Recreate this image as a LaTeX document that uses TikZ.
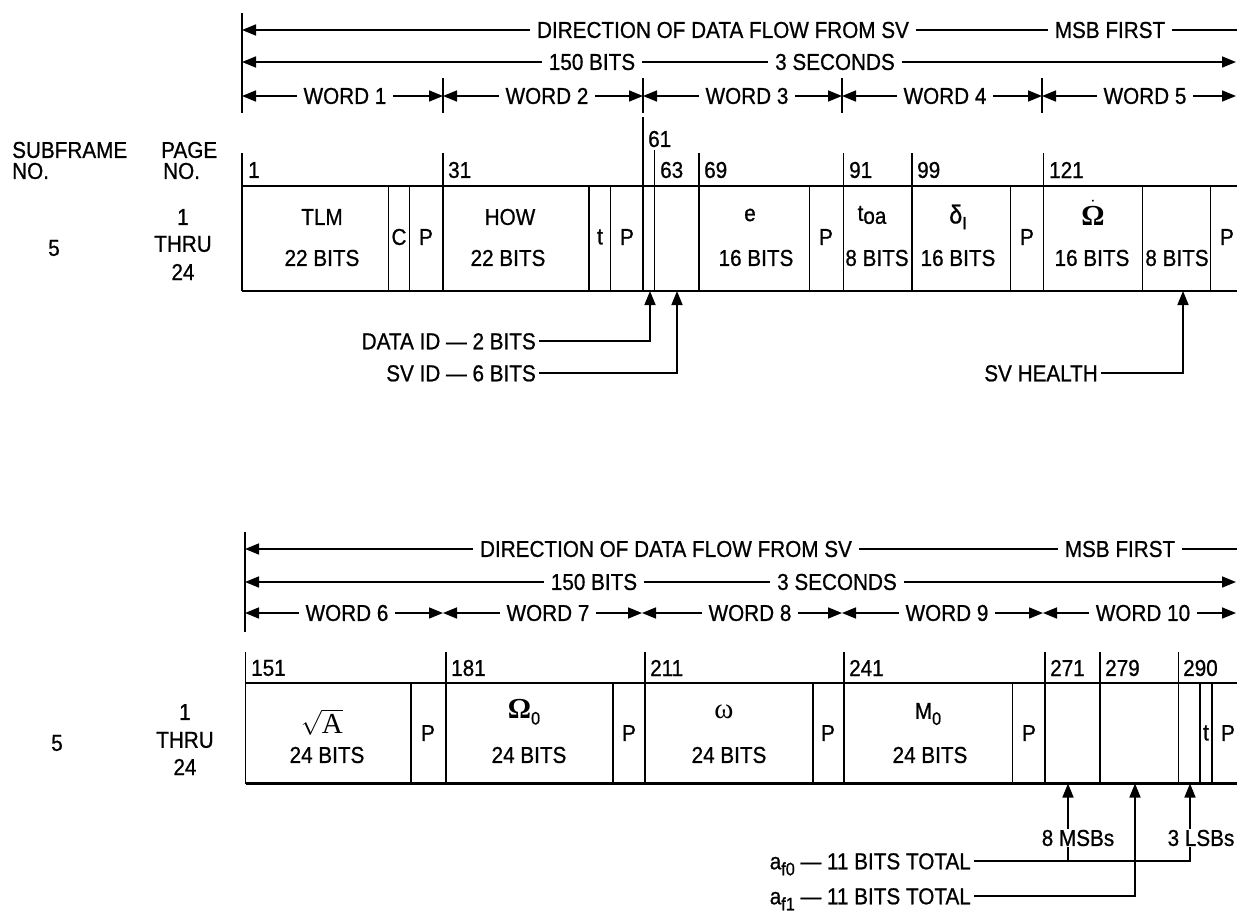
\documentclass[tikz,border=0pt]{standalone}
\usepackage{fontspec}
\setmainfont{Liberation Sans}[FakeStretch=0.9, FakeBold=0.8]
\newfontfamily\serifgr{Liberation Serif}
\usepackage{amsmath}
\usetikzlibrary{arrows.meta, positioning}

\newcommand\bitfont{\fontsize{23}{26}\selectfont}
\newcommand\bigsym{\fontsize{29}{30}\selectfont}
\newcommand\dropsub[1]{\raisebox{-6pt}{\fontsize{18}{20}\selectfont #1}}

\begin{document}
\begin{tikzpicture}[x=1pt, y=-1pt, font=\bitfont, >={Triangle[length=14pt,width=11pt]},
    frame/.style={line width=2.2pt},
    flow/.style={line width=1.6pt},
    tick/.style={line width=1.6pt},
    gaplbl/.style={fill=white, inner xsep=7pt, inner ysep=1pt},
    bitno/.style={anchor=west, inner sep=0pt},
    cell/.style={inner sep=0pt},
    callout/.style={anchor=east, inner xsep=3pt, inner ysep=0pt, text height=16.5pt, text depth=0pt}]
    \useasboundingbox (0,0) rectangle (1237,913);

    % ---------------- Upper frame (words 1 to 5) ----------------
    % Direction arrows
    \draw[tick] (242,13) -- (242,113);
    \draw[flow,->] (1237,30) -- (242,30);
    \node[gaplbl] (dir) at (723,30) {DIRECTION OF DATA FLOW FROM SV};
    \node[gaplbl] (msb) at (1110,30) {MSB FIRST};
    \draw[flow,<->] (242,62) -- (1236,62);
    \node[gaplbl] (bits) at (592,62) {150 BITS};
    \node[gaplbl] (secs) at (835,62) {3 SECONDS};

    % Word arrows
    \draw[tick] (443,78) -- (443,113);
    \draw[tick] (643,78) -- (643,113);
    \draw[tick] (842,78) -- (842,113);
    \draw[tick] (1042,78) -- (1042,113);
    \draw[flow,<->] (242,96) -- (443,96);
    \draw[flow,<->] (443,96) -- (643,96);
    \draw[flow,<->] (643,96) -- (842,96);
    \draw[flow,<->] (842,96) -- (1042,96);
    \draw[flow,<->] (1042,96) -- (1236,96);
    \node[gaplbl] (w1) at (345,96) {WORD 1};
    \node[gaplbl] (w2) at (547,96) {WORD 2};
    \node[gaplbl] (w3) at (747,96) {WORD 3};
    \node[gaplbl] (w4) at (945,96) {WORD 4};
    \node[gaplbl] (w5) at (1145,96) {WORD 5};

    % Row headings
    \node[bitno] (subfr) at (12,150) {SUBFRAME};
    \node[bitno] (subfrno) at (12,171) {NO.};
    \node[bitno] (page) at (161,150) {PAGE};
    \node[bitno] (pageno) at (163,171) {NO.};
    \node[cell] (sub5) at (54,248) {5};
    \node[cell] (pg1) at (183,217) {1};
    \node[cell] (pgthru) at (183,244) {THRU};
    \node[cell] (pg24) at (183,272) {24};

    % Frame outline and fields
    \draw[frame] (242,186) -- (1237,186);
    \draw[frame] (242,291) -- (1237,291);
    \draw[tick] (242,153) -- (242,291);
    \draw[tick] (443,153) -- (443,291);
    \draw[tick] (643,117) -- (643,291);
    \draw[tick] (654.5,150) -- (654.5,291);
    \draw[tick] (699,153) -- (699,291);
    \draw[tick] (843.5,153) -- (843.5,291);
    \draw[tick] (912,153) -- (912,291);
    \draw[tick] (1043.5,153) -- (1043.5,291);
    \draw[tick] (388.5,186) -- (388.5,291);
    \draw[tick] (409.5,186) -- (409.5,291);
    \draw[tick] (589,186) -- (589,291);
    \draw[tick] (610.5,186) -- (610.5,291);
    \draw[tick] (809.5,186) -- (809.5,291);
    \draw[tick] (1010.5,186) -- (1010.5,291);
    \draw[tick] (1142.5,186) -- (1142.5,291);
    \draw[tick] (1210.5,186) -- (1210.5,291);

    % Bit numbers
    \node[bitno] (n1) at (248,170) {1};
    \node[bitno] (n31) at (448,170) {31};
    \node[bitno] (n61) at (648,139) {61};
    \node[bitno] (n63) at (660,170) {63};
    \node[bitno] (n69) at (704,170) {69};
    \node[bitno] (n91) at (849,170) {91};
    \node[bitno] (n99) at (917,170) {99};
    \node[bitno] (n121) at (1049,170) {121};

    % Field texts
    \node[cell] (tlm) at (322,217) {TLM};
    \node[cell] (tlmbits) at (322,258) {22 BITS};
    \node[cell] (cbit) at (399,237) {C};
    \node[cell] (par1) at (426,237) {P};
    \node[cell] (how) at (510,217) {HOW};
    \node[cell] (howbits) at (508,258) {22 BITS};
    \node[cell] (tbit) at (600,237) {t};
    \node[cell] (par2) at (627,237) {P};
    \node[cell] (ecc) at (750,215) {e};
    \node[cell] (eccbits) at (756,258) {16 BITS};
    \node[cell] (par3) at (826,237) {P};
    \node[cell] (toa) at (872,215) {t\raisebox{-3pt}{oa}};
    \node[cell] (toabits) at (877,258) {8 BITS};
    \node[cell] (delta) at (958,217) {{\fontsize{26}{28}\selectfont δ}\dropsub{I}};
    \node[cell] (deltabits) at (958,258) {16 BITS};
    \node[cell] (par4) at (1027,237) {P};
    \node[cell] (omdot) at (1093,213) {\bigsym$\dot{\text{\serifgr\bfseries Ω}}$};
    \node[cell] (omdotbits) at (1092,258) {16 BITS};
    \node[cell] (healthbits) at (1177,258) {8 BITS};
    \node[cell] (par5) at (1227,237) {P};

    % Call-outs
    \node[callout] (dataid) at (539,341) {DATA ID — 2 BITS};
    \node[callout] (svid) at (539,373) {SV ID — 6 BITS};
    \node[callout] (svhealth) at (1101,373) {SV HEALTH};
    \coordinate (dataidtip) at (650,291);
    \coordinate (svidtip) at (677,291);
    \coordinate (healthtip) at (1183,291);
    \draw[flow,->] (dataid.east) -| (dataidtip);
    \draw[flow,->] (svid.east) -| (svidtip);
    \draw[flow,->] (svhealth.east) -| (healthtip);

    % ---------------- Lower frame (words 6 to 10) ----------------
    % Direction arrows
    \draw[tick] (245,532) -- (245,632);
    \draw[flow,->] (1237,549) -- (245,549);
    \node[gaplbl] (dirb) at (666,549) {DIRECTION OF DATA FLOW FROM SV};
    \node[gaplbl] (msbb) at (1120,549) {MSB FIRST};
    \draw[flow,<->] (245,582) -- (1236,582);
    \node[gaplbl] (bitsb) at (594,582) {150 BITS};
    \node[gaplbl] (secsb) at (837,582) {3 SECONDS};

    % Word arrows
    \draw[flow,<->] (245,613) -- (443,613);
    \draw[flow,<->] (443,613) -- (642,613);
    \draw[flow,<->] (642,613) -- (842,613);
    \draw[flow,<->] (842,613) -- (1043,613);
    \draw[flow,<->] (1043,613) -- (1236,613);
    \node[gaplbl] (w6) at (347,613) {WORD 6};
    \node[gaplbl] (w7) at (548,613) {WORD 7};
    \node[gaplbl] (w8) at (750,613) {WORD 8};
    \node[gaplbl] (w9) at (947,613) {WORD 9};
    \node[gaplbl] (w10) at (1143,613) {WORD 10};

    % Row headings
    \node[cell] (sub5b) at (57,743) {5};
    \node[cell] (pg1b) at (185,712) {1};
    \node[cell] (pgthrub) at (185,740) {THRU};
    \node[cell] (pg24b) at (185,767) {24};

    % Frame outline and fields
    \draw[frame] (245.5,683) -- (1237,683);
    \draw[frame] (245.5,783.5) -- (1237,783.5);
    \draw[tick] (245.5,652) -- (245.5,783.5);
    \draw[tick] (445.7,652) -- (445.7,783.5);
    \draw[tick] (645,652) -- (645,783.5);
    \draw[tick] (844,652) -- (844,783.5);
    \draw[tick] (1045,652) -- (1045,783.5);
    \draw[tick] (1100,652) -- (1100,783.5);
    \draw[tick] (1178.3,652) -- (1178.3,783.5);
    \draw[tick] (411,683) -- (411,783.5);
    \draw[tick] (612.7,683) -- (612.7,783.5);
    \draw[tick] (812.7,683) -- (812.7,783.5);
    \draw[tick] (1012.3,683) -- (1012.3,783.5);
    \draw[tick] (1200,683) -- (1200,783.5);
    \draw[tick] (1211.7,683) -- (1211.7,783.5);

    % Bit numbers
    \node[bitno] (n151) at (251,668) {151};
    \node[bitno] (n181) at (451,668) {181};
    \node[bitno] (n211) at (650,668) {211};
    \node[bitno] (n241) at (849,668) {241};
    \node[bitno] (n271) at (1050,668) {271};
    \node[bitno] (n279) at (1105,668) {279};
    \node[bitno] (n290) at (1183,668) {290};

    % Field texts
    \node[cell] (sqa) at (322,722) {\bigsym$\sqrt{\mbox{\serifgr A}}$};
    \node[cell] (sqabits) at (327,755) {24 BITS};
    \node[cell] (par6) at (428,733) {P};
    \node[cell] (om0) at (524,712) {{\bigsym\serifgr\bfseries Ω}\dropsub{0}};
    \node[cell] (om0bits) at (529,755) {24 BITS};
    \node[cell] (par7) at (629,733) {P};
    \node[cell] (argp) at (724,712) {\bigsym\serifgr ω};
    \node[cell] (argpbits) at (729,755) {24 BITS};
    \node[cell] (par8) at (828,733) {P};
    \node[cell] (mzero) at (928,714) {M\dropsub{0}};
    \node[cell] (mzerobits) at (930,755) {24 BITS};
    \node[cell] (par9) at (1029,733) {P};
    \node[cell] (tbitb) at (1206,733) {t};
    \node[cell] (par10) at (1228,733) {P};

    % Call-outs
    \node[callout] (af0) at (974,861) {a\dropsub{f0} — 11 BITS TOTAL};
    \node[callout] (af1) at (974,896) {a\dropsub{f1} — 11 BITS TOTAL};
    \coordinate (msbtip) at (1068,783.5);
    \coordinate (af1tip) at (1135,783.5);
    \coordinate (lsbtip) at (1190,783.5);
    \draw[flow,->] (af0.east) -| (lsbtip);
    \draw[flow,->] (af1.east) -| (af1tip);
    \draw[flow,->] (msbtip |- af0.east) -- (msbtip);
    \node[gaplbl, inner xsep=1pt] (msbs) at (1078,838) {8 MSBs};
    \node[gaplbl, inner xsep=1pt] (lsbs) at (1201,838) {3 LSBs};
\end{tikzpicture}
\end{document}
